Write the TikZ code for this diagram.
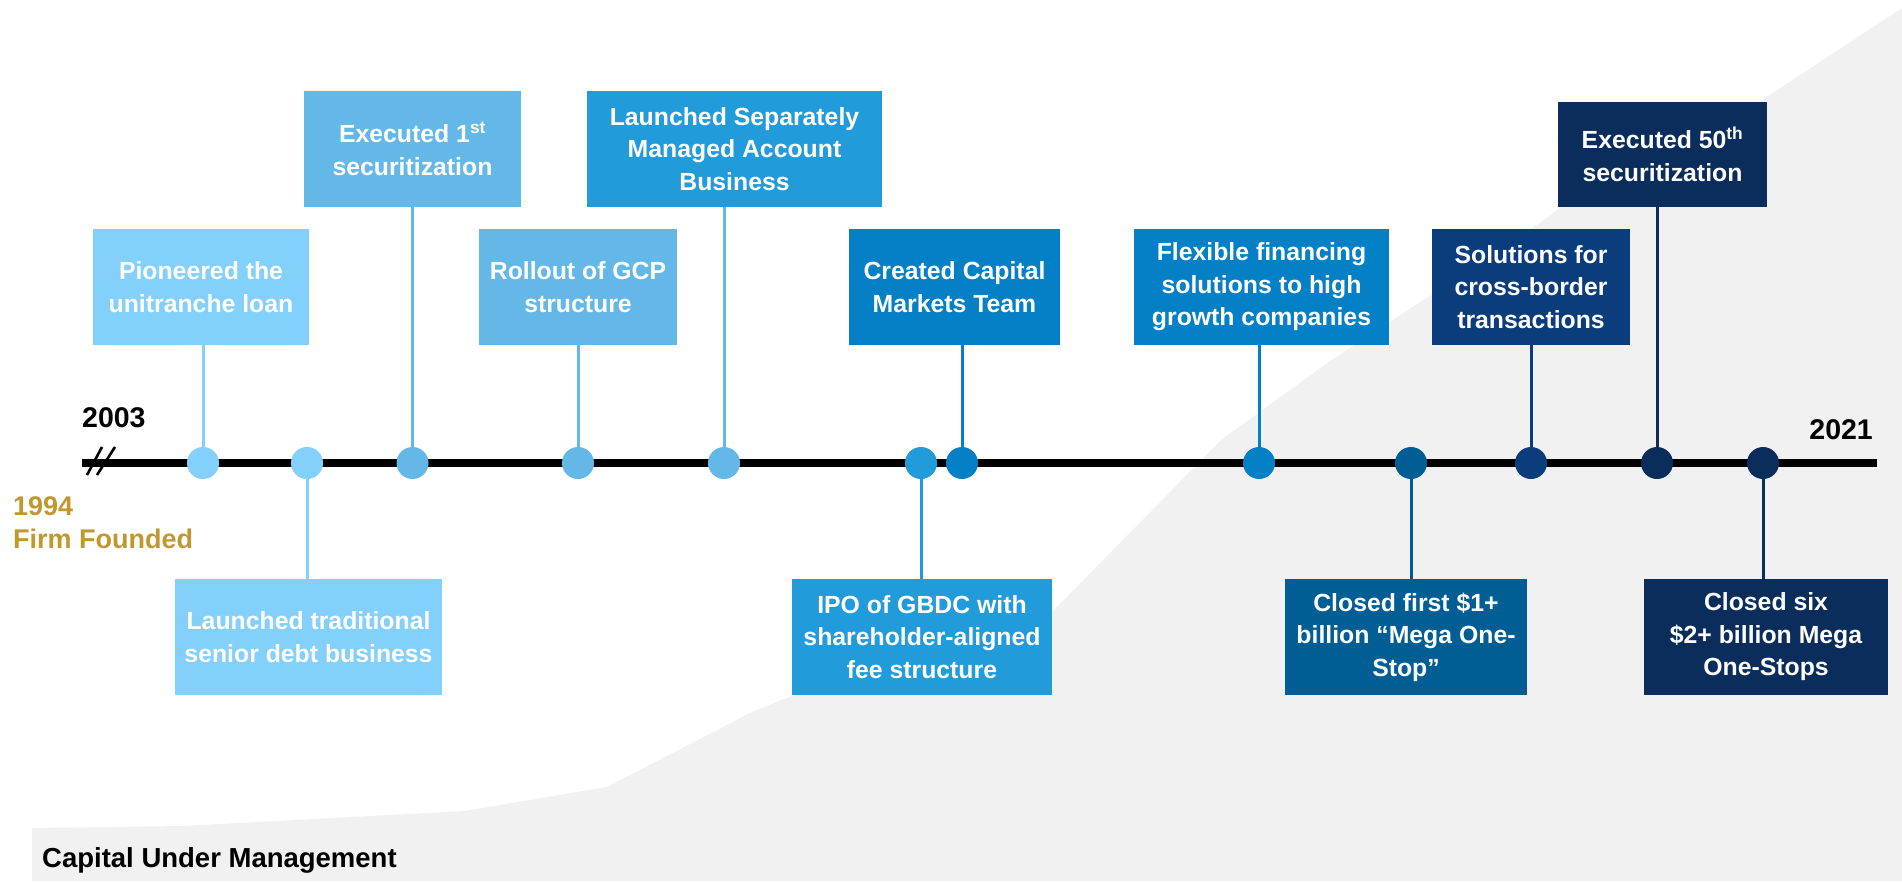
\documentclass[tikz,border=0pt]{standalone}
\usepackage{fontspec}
\setmainfont{Liberation Sans}
\pgfdeclarelayer{bg}
\pgfsetlayers{bg,main}
\definecolor{cA}{HTML}{83D0FC}
\definecolor{cB}{HTML}{64B8E7}
\definecolor{cC}{HTML}{219BDA}
\definecolor{cD}{HTML}{0480C6}
\definecolor{cE}{HTML}{005E95}
\definecolor{cF}{HTML}{0B3C7C}
\definecolor{cG}{HTML}{0B2D5B}
\definecolor{gold}{HTML}{C0982F}
\definecolor{bggray}{HTML}{F1F1F1}
\begin{document}
\begin{tikzpicture}[x=1pt,y=-1pt,
  box/.style={rectangle, inner sep=0pt, minimum height=116pt, text=white, align=center,
    font=\bfseries\fontsize{24.8}{32.5}\selectfont},
  dotnode/.style={circle, inner sep=0pt, minimum size=32pt},
  conn/.style={line width=3pt},
  yr/.style={inner sep=0pt, font=\bfseries\fontsize{28.5}{34}\selectfont},
  founded/.style={inner sep=0pt, text=gold, font=\bfseries\fontsize{27}{33}\selectfont}]
\useasboundingbox (0,0) rectangle (1902,881);

% boxes above the line
\node[box, fill=cA, minimum width=216pt] (A) at (201,287) {Pioneered the\\unitranche loan};
\node[box, fill=cB, minimum width=217pt] (B) at (412.5,149) {Executed 1\textsuperscript{st}\\securitization};
\node[box, fill=cB, minimum width=198pt] (C) at (578,287) {Rollout of GCP\\structure};
\node[box, fill=cC, minimum width=295pt] (D) at (734.5,149) {Launched Separately\\Managed Account\\Business};
\node[box, fill=cD, minimum width=211pt] (E) at (954.5,287) {Created Capital\\Markets Team};
\node[box, fill=cD, minimum width=255pt] (F) at (1261.5,287) {Flexible financing\\solutions to high\\growth companies};
\node[box, fill=cF, minimum width=198pt] (G) at (1531,287) {Solutions for\\cross-border\\transactions};
\node[box, fill=cG, minimum width=209pt, minimum height=105pt] (H) at (1662.5,154.5) {Executed 50\textsuperscript{th}\\securitization};
% boxes below the line
\node[box, fill=cA, minimum width=267pt] (I) at (308.5,637) {Launched traditional\\senior debt business};
\node[box, fill=cC, minimum width=260pt] (J) at (922,637) {IPO of GBDC with\\shareholder-aligned\\fee structure};
\node[box, fill=cE, minimum width=242pt] (K) at (1406,637) {Closed first \$1+\\billion “Mega One-\\Stop”};
\node[box, fill=cG, minimum width=244pt] (L) at (1766,637) {Closed six\\\$2+ billion Mega\\One-Stops};

% dots
\node[dotnode, fill=cA] (d1) at (203,463) {};
\node[dotnode, fill=cA] (d2) at (307,463) {};
\node[dotnode, fill=cB] (d3) at (412.5,463) {};
\node[dotnode, fill=cB] (d4) at (578,463) {};
\node[dotnode, fill=cB] (d5) at (724,463) {};
\node[dotnode, fill=cC] (d6) at (921,463) {};
\node[dotnode, fill=cD] (d7) at (962,463) {};
\node[dotnode, fill=cD] (d8) at (1259,463) {};
\node[dotnode, fill=cE] (d9) at (1411,463) {};
\node[dotnode, fill=cF] (d10) at (1531,463) {};
\node[dotnode, fill=cG] (d11) at (1657,463) {};
\node[dotnode, fill=cG] (d12) at (1763,463) {};

% labels
\node[yr, anchor=base west] (y2003) at (82,427) {2003};
\node[yr, anchor=base east] (y2021) at (1873,439) {2021};
\node[founded, anchor=base west] (y1994) at (13,515) {1994};
\node[founded, anchor=base west] (firm) at (13,548) {Firm Founded};
\node[inner sep=0pt, anchor=base west, font=\bfseries\fontsize{27.5}{32}\selectfont] (cum) at (42,867) {Capital Under Management};

\begin{pgfonlayer}{bg}
\fill[bggray] (32,881) -- (32,828) -- (182,826) -- (464,811) -- (607,787) -- (752,712)
  -- (794,695) -- (1052,612) -- (1221,440) -- (1327,363) -- (1530,230) -- (1560,208)
  -- (1762,100) -- (1902,8) -- (1902,881) -- cycle;
\coordinate (tlL) at (82,463);
\coordinate (tlR) at (1877,463);
\draw[line width=8pt] (tlL) -- (tlR);
\coordinate (s1a) at (87,475); \coordinate (s1b) at (102,447);
\coordinate (s2a) at (97,475); \coordinate (s2b) at (115,447);
\draw[line width=2.6pt] (s1a) -- (s1b);
\draw[line width=2.6pt] (s2a) -- (s2b);
% connectors
\draw[conn, cA] (d1.center) -- (d1 |- A.south);
\draw[conn, cA] (d2.center) -- (d2 |- I.north);
\draw[conn, cB] (d3.center) -- (d3 |- B.south);
\draw[conn, cB] (d4.center) -- (d4 |- C.south);
\draw[conn, cB] (d5.center) -- (d5 |- D.south);
\draw[conn, cC] (d6.center) -- (d6 |- J.north);
\draw[conn, cD] (d7.center) -- (d7 |- E.south);
\draw[conn, cD] (d8.center) -- (d8 |- F.south);
\draw[conn, cE] (d9.center) -- (d9 |- K.north);
\draw[conn, cF] (d10.center) -- (d10 |- G.south);
\draw[conn, cG] (d11.center) -- (d11 |- H.south);
\draw[conn, cG] (d12.center) -- (d12 |- L.north);
\end{pgfonlayer}
\end{tikzpicture}
\end{document}
